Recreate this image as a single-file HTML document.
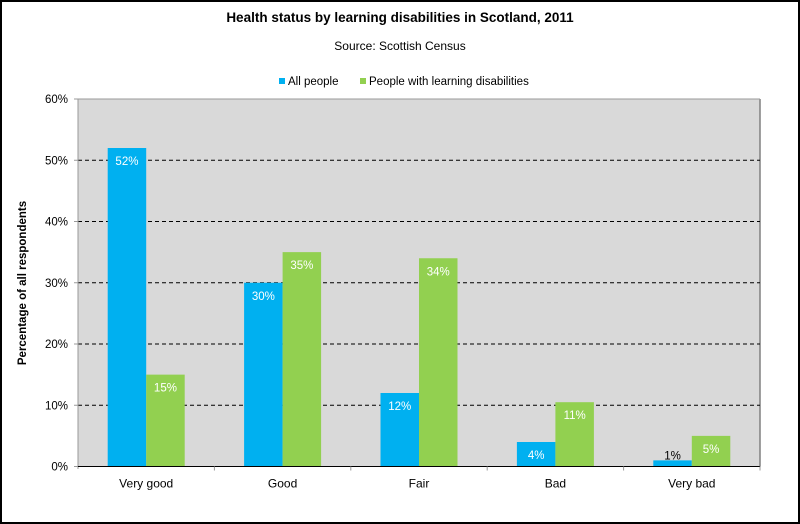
<!DOCTYPE html>
<html><head><meta charset="utf-8"><style>
body{margin:0;background:#fff}
svg{display:block;font-family:"Liberation Sans",Arial,sans-serif}
</style></head><body>
<svg width="800" height="524">
<rect x="1" y="1" width="798" height="522" fill="#fff" stroke="#000" stroke-width="2"/>
<text x="400" y="22" text-anchor="middle" font-size="13.5" font-weight="bold">Health status by learning disabilities in Scotland, 2011</text>
<text x="400" y="50" text-anchor="middle" font-size="12">Source: Scottish Census</text>
<g>
<rect x="279" y="78" width="6" height="6" fill="#00B0F0"/>
<text x="288" y="85" font-size="11.5">All people</text>
<rect x="360" y="78" width="6" height="6" fill="#92D050"/>
<text x="369" y="85" font-size="11.5">People with learning disabilities</text>
</g>
<rect x="78" y="99" width="682" height="367.5" fill="#D9D9D9"/>
<line x1="760" y1="99" x2="760" y2="466.5" stroke="#808080" stroke-width="1.5"/>
<line x1="78" y1="99" x2="760" y2="99" stroke="#999"/>
<g id="grid"></g>
<g id="bars"></g>
<line x1="78" y1="99" x2="78" y2="469" stroke="#999"/>
<line x1="78" y1="466.5" x2="760" y2="466.5" stroke="#000"/>
<g id="xt"></g>
<text transform="translate(26,283) rotate(-90)" text-anchor="middle" font-size="11.5" font-weight="bold">Percentage of all respondents</text>
</svg>
<script>
const categories=["Very good","Good","Fair","Bad","Very bad"];
const allPeople=[52,30,12,4,1];
const ldPeople=[15,35,34,10.5,5];
const allLabels=["52%","30%","12%","4%","1%"];
const ldLabels=["15%","35%","34%","11%","5%"];
const yTicks=[0,10,20,30,40,50,60];
const NS="http://www.w3.org/2000/svg";
const x0=78,x1=760,y0=466.5,yTop=99,ymax=60;
const cw=(x1-x0)/categories.length,bw=38.5;
const ys=v=>y0-(v/ymax)*(y0-yTop);
function mk(t,a,p,txt){const e=document.createElementNS(NS,t);for(const k in a)e.setAttribute(k,a[k]);if(txt!==undefined)e.textContent=txt;p.appendChild(e);return e;}
const grid=document.getElementById('grid'),bars=document.getElementById('bars'),xt=document.getElementById('xt');
yTicks.forEach(v=>{const y=ys(v);
if(v>0&&v<60){const l=mk('line',{x1:x0,x2:x1,y1:y,y2:y,stroke:'#000','stroke-dasharray':'4,3'},grid);

}
mk('line',{x1:x0-4,x2:x0,y1:y,y2:y,stroke:'#999'},grid);
const t=mk('text',{x:x0-10,y:y+4,'text-anchor':'end','font-size':'11.5'},grid,v+'%');

});
categories.forEach((c,i)=>{const cx=x0+cw*(i+0.5);
mk('line',{x1:x0+cw*(i+1),x2:x0+cw*(i+1),y1:y0,y2:y0+4,stroke:'#999'},xt);
const t=mk('text',{x:cx,y:y0+21,'text-anchor':'middle','font-size':'12'},xt,c);


[[allPeople,allLabels,'#00B0F0',cx-bw,'all'],[ldPeople,ldLabels,'#92D050',cx,'ld']].forEach(([vals,labs,col,bx,s])=>{
const y=ys(vals[i]);
const r=mk('rect',{x:bx,y:y,width:bw,height:y0-y,fill:col},bars);


const inside=(y0-y)>20;
const lt=mk('text',{x:bx+bw/2,y:inside?y+17:y-1,'text-anchor':'middle','font-size':'11.5',fill:inside?'#fff':'#000'},bars,labs[i]);

});});
</script>
</body></html>
